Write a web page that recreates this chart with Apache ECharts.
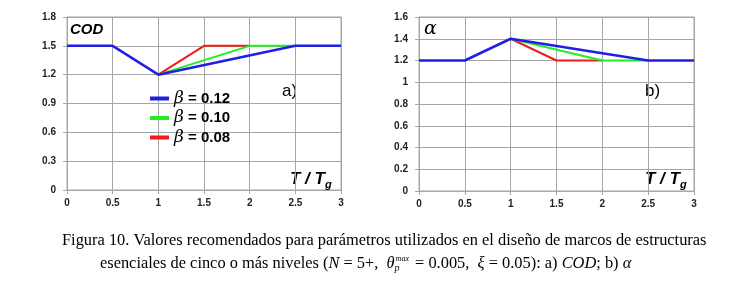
<!DOCTYPE html>
<html lang="es">
<head>
<meta charset="UTF-8">
<title>COD y alfa</title>
<script src="https://cdn.jsdelivr.net/npm/echarts@6/dist/echarts.min.js"></script>
<style>
  *{margin:0;padding:0;}
  body{background:#fff;}
  #chart{width:743px;height:289px;}
</style>
</head>
<body>
<div id="chart"></div>
<script>
// datos: [T/Tg, valor]
var codB12 = [[0,1.5],[0.5,1.5],[1,1.2],[2.5,1.5],[3,1.5]]
var codB10 = [[1,1.2],[2,1.5],[2.5,1.5]]
var codB08 = [[1,1.2],[1.5,1.5],[2,1.5]]
var alfaB12 = [[0,1.2],[0.5,1.2],[1,1.4],[2.5,1.2],[3,1.2]]
var alfaB10 = [[1,1.4],[2,1.2],[2.5,1.2]]
var alfaB08 = [[1,1.4],[1.5,1.2],[2,1.2]]
var nombres = ["β = 0.12","β = 0.10","β = 0.08"]
var colores = ["#1f1fe6","#22ee22","#ee1c1c"]

var myChart = echarts.init(document.getElementById("chart"))

var gris = "#a6a6a6"
function ejeX(idx){
    return {
        type:"value", gridIndex:idx, min:0, max:3, interval:0.5,
        axisLine:{lineStyle:{color:gris}},
        axisTick:{show:true,length:4,lineStyle:{color:gris}},
        splitLine:{lineStyle:{color:gris}},
        axisLabel:{color:"#222",fontWeight:"bold",fontSize:10,fontFamily:"Liberation Sans",margin:8}
    }
}
function ejeY(idx,max,interval){
    return {
        type:"value", gridIndex:idx, min:0, max:max, interval:interval,
        axisLine:{show:true,lineStyle:{color:gris}},
        axisTick:{show:true,length:4,lineStyle:{color:gris}},
        splitLine:{lineStyle:{color:gris}},
        axisLabel:{color:"#222",fontWeight:"bold",fontSize:10,fontFamily:"Liberation Sans",margin:11}
    }
}
function linea(nombre,datos,color,idx,ancho){
    return {
        name:nombre, type:"line", xAxisIndex:idx, yAxisIndex:idx,
        data:datos, showSymbol:false, animation:false,
        lineStyle:{color:color,width:ancho}, itemStyle:{color:color}
    }
}

var tTg = {
    i:{fontStyle:"italic",fontWeight:"bold",fontSize:17,fontFamily:"Liberation Sans",color:"#000"},
    s:{fontStyle:"italic",fontWeight:"bold",fontSize:11,fontFamily:"Liberation Sans",color:"#000",padding:[10,0,0,0]}
}

var option = {
    animation:false,
    grid:[
        {left:67,top:17,width:274,height:173,show:true,borderColor:gris,borderWidth:1},
        {left:419,top:17,width:275,height:174,show:true,borderColor:gris,borderWidth:1}
    ],
    xAxis:[ejeX(0),ejeX(1)],
    yAxis:[ejeY(0,1.8,0.3),ejeY(1,1.6,0.2)],
    legend:{
        data:nombres,
        orient:"vertical",
        left:145, top:85,
        itemWidth:19, itemHeight:4, itemGap:2.5,
        icon:"rect",
        formatter:function(n){ return "{b|β}{t|" + n.slice(1) + "}" },
        textStyle:{
            rich:{
                b:{fontStyle:"italic",fontSize:17,fontFamily:"DejaVu Serif",color:"#000",lineHeight:18},
                t:{fontWeight:"bold",fontSize:15,fontFamily:"Liberation Sans",color:"#000",lineHeight:18}
            }
        }
    },
    series:[
        linea(nombres[2],codB08,colores[2],0,2),
        linea(nombres[1],codB10,colores[1],0,2),
        linea(nombres[0],codB12,colores[0],0,2.5),
        linea(nombres[2],alfaB08,colores[2],1,2),
        linea(nombres[1],alfaB10,colores[1],1,2),
        linea(nombres[0],alfaB12,colores[0],1,2.5)
    ],
    graphic:[
        {type:"text",left:70,top:22,style:{text:"COD",font:"italic bold 15px Liberation Sans",fill:"#000"}},
        {type:"text",left:282,top:83,style:{text:"a)",font:"17px Liberation Sans",fill:"#000"}},
        {type:"text",left:290,top:171,style:{text:"{i|T / T}{s|g}",rich:tTg}},
        {type:"text",left:424,top:20,style:{text:"α",font:"italic 19px DejaVu Serif",fill:"#000"}},
        {type:"text",left:645,top:83,style:{text:"b)",font:"17px Liberation Sans",fill:"#000"}},
        {type:"text",left:645,top:171,style:{text:"{i|T / T}{s|g}",rich:tTg}},
        {type:"text",left:62,top:233,style:{
            text:"Figura 10. Valores recomendados para parámetros utilizados en el diseño de marcos de estructuras",
            font:"16.4px Liberation Serif",fill:"#000"}},
        {type:"text",left:100,top:255,style:{
            text:"{r|esenciales de cinco o más niveles (}{i|N}{r| = 5+,  }{i|θ}{p|p}{m|max}{r| = 0.005,  }{i|ξ}{r| = 0.05): a) }{i|COD}{r|; b) }{i|α}",
            rich:{
                r:{font:"16.4px Liberation Serif",fill:"#000"},
                i:{font:"italic 16.4px Liberation Serif",fill:"#000"},
                p:{font:"italic 10px Liberation Serif",fill:"#000",width:1,padding:[10,0,0,0]},
                m:{font:"italic 8px Liberation Serif",fill:"#000",padding:[0,2,9,0]}
            }}}
    ]
}
myChart.setOption(option)
window.onresize = myChart.resize
</script>
</body>
</html>
